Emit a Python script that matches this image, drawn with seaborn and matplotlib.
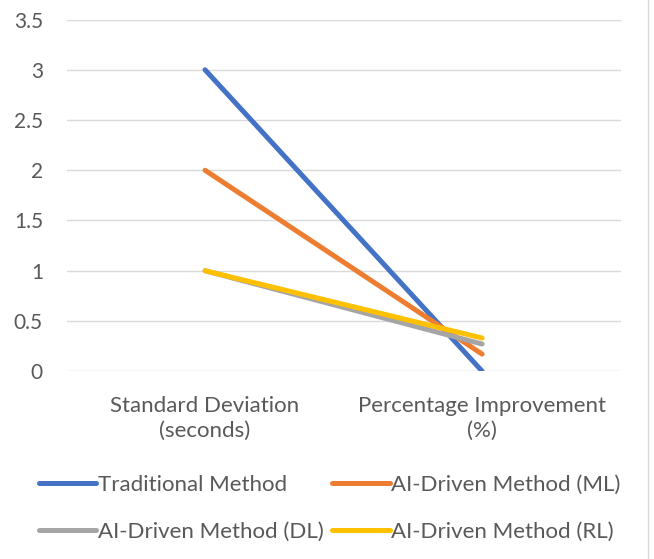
import matplotlib
matplotlib.use("Agg")
import matplotlib.pyplot as plt
from matplotlib.lines import Line2D
import pandas as pd
import seaborn as sns

# ===== DATA =====
categories = ["Standard Deviation\n(seconds)", "Percentage Improvement\n(%)"]
series_names = ["Traditional Method", "AI-Driven Method (ML)",
                "AI-Driven Method (DL)", "AI-Driven Method (RL)"]
traditional = [3, 0]
ml = [2, 0.17]
dl = [1, 0.27]
rl = [1, 0.33]
y_ticks = [0, 0.5, 1, 1.5, 2, 2.5, 3, 3.5]

colors = ["#4472C4", "#ED7D31", "#A5A5A5", "#FFC000"]

rows = []
for name, vals in zip(series_names, [traditional, ml, dl, rl]):
    for i, v in enumerate(vals):
        rows.append({"x": i, "value": v, "series": name})
df = pd.DataFrame(rows)

sns.set_theme(style="white")
plt.rcParams["font.family"] = ["Lato", "DejaVu Sans"]
text_color = "#595959"
fs = 16

fig = plt.figure(figsize=(6.54, 5.59), dpi=100)
ax = fig.add_axes([0.1017, 0.336, 0.8473, 0.629])

sns.lineplot(data=df, x="x", y="value", hue="series", hue_order=series_names,
             palette=colors, linewidth=3.6, ax=ax, legend=False,
             solid_capstyle="round")

ax.set_xlim(-0.5, 1.5)
ax.set_ylim(0, 3.5)
ax.set_yticks(y_ticks)
ax.set_yticklabels([f"{t:g}" for t in y_ticks], color=text_color, fontsize=15)
ax.set_xticks([0, 1])
ax.set_xticklabels(categories, color=text_color, fontsize=fs, linespacing=1.3)
ax.tick_params(axis="y", length=0, pad=17)
ax.tick_params(axis="x", length=0, pad=18)
ax.set_xlabel("")
ax.set_ylabel("")
ax.grid(axis="y", color="#D9D9D9", linewidth=1)
ax.set_axisbelow(True)
for s in ax.spines.values():
    s.set_visible(False)

# legend fills column-wise, so reorder to get row-wise reading
order = [0, 2, 1, 3]
handles = [Line2D([0], [0], color=colors[i], linewidth=3.6,
                  solid_capstyle="round") for i in order]
labels = [series_names[i] for i in order]
leg = fig.legend(handles, labels, loc="center", ncol=2,
                 bbox_to_anchor=(0.504, 0.091), frameon=False, fontsize=fs,
                 handlelength=2.6, handletextpad=0.05, columnspacing=0.4,
                 labelspacing=1.2)
for t in leg.get_texts():
    t.set_color(text_color)

# chart border on the right
fig.add_artist(Line2D([0.991, 0.991], [0, 1], color="#D9D9D9", linewidth=1))

fig.savefig("out.png", dpi=100)
